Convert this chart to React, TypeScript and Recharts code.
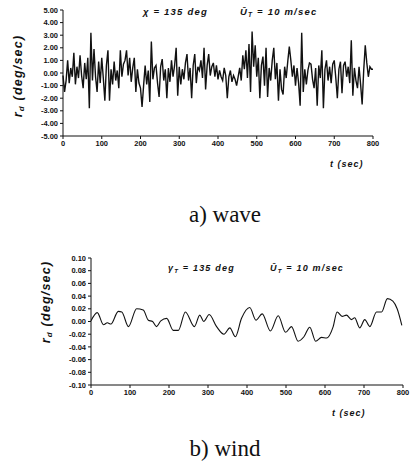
import { LineChart, Line, XAxis, YAxis } from "recharts";

// wave-induced yaw rate, sampled every 4 sec
const waveValues = [
  -0.2, -1.5, -0.6, 1.0, -0.8, 0.4, -0.3, 1.6, -0.9, 0.5,
  -0.4, 1.4, -0.2, -1.2, 0.8, -0.5, 1.2, -2.8, 3.2, -0.6,
  1.9, -0.3, -1.5, 0.9, -0.8, 1.2, -0.4, -2.2, 0.6, 1.8,
  -2.2, 0.3, -0.9, 0.9, -0.6, 0.2, -1.2, 1.8, -0.3, 0.7,
  1.0, 1.8, -0.2, 1.2, -0.7, 0.4, 1.2, -1.5, 0.3, -0.8,
  -1.2, -2.7, -1.0, 0.6, -0.9, 0.2, -2.3, 2.5, -0.5, 0.4,
  0.6, -0.8, -1.9, 0.5, 1.1, -0.6, 0.3, -2.0, 0.4, -0.7,
  1.0, -0.3, 0.6, 2.0, -1.8, 0.5, -0.9, 0.3, -0.5, 0.8,
  1.5, -0.6, 0.4, -2.0, 0.6, 1.5, -0.8, 0.5, 0.2, 1.0,
  -0.4, 2.0, -1.3, 0.6, 1.5, -0.2, 0.5, 0.8, -0.3, 0.6,
  -0.5, 0.2, -0.3, -0.6, 0.4, -0.2, -2.0, -0.3, 0.2, -0.7,
  -0.2, -0.5, -1.0, -0.3, 0.4, -0.6, 1.4, 0.3, 1.8, -0.4,
  2.3, -1.5, 3.3, 0.5, 2.2, -0.3, 1.2, -2.0, 0.6, 1.3,
  -1.0, 2.0, -1.9, 0.4, -0.6, 1.0, 2.0, -0.5, 0.8, -2.2,
  0.3, -1.3, -1.7, 0.5, -0.4, 0.9, 2.1, 1.0, -0.3, 0.6,
  -1.0, 0.4, -0.8, -2.6, 3.2, -1.5, 0.3, -0.9, 0.2, 0.8,
  0.7, -0.5, -1.2, 0.4, -2.6, 0.6, -0.4, 1.8, -2.8, 0.3,
  1.0, -0.6, 0.5, -0.8, 0.7, 1.0, -0.4, -2.0, 0.3, 0.9,
  -1.6, 0.6, 0.9, -0.3, 0.5, -0.8, 2.6, -1.8, 0.4, -0.6,
  -1.2, 0.5, -0.9, -2.5, 0.2, 2.2, 0.8, -0.3, 0.5, 0.3,
  0.3,
];
const waveStep = 4;

// wind-induced yaw rate, read at irregular times
const windTimes = [
  0, 16, 32, 42, 51, 70, 79, 96, 117, 134, 147, 158, 168, 179, 194, 211, 224,
  242, 265, 279, 289, 303, 322, 341, 356, 370, 386, 407, 423, 439, 460, 480,
  499, 514, 531, 546, 561, 576, 591, 604, 621, 631, 644, 655, 668, 676, 689,
  702, 715, 732, 745, 760, 774, 785, 797,
];
const windValues = [
  0.001, 0.014, -0.005, -0.002, -0.004, 0.016, 0.015, -0.008, 0.02, 0.018,
  0.002, 0.0, -0.008, 0.001, 0.005, -0.014, -0.014, 0.015, -0.008, 0.01, 0.0,
  0.011, -0.008, -0.02, -0.01, -0.024, 0.005, 0.022, 0.002, 0.012, -0.015,
  0.009, -0.017, -0.008, -0.031, -0.024, -0.009, -0.031, -0.025, -0.026,
  -0.008, 0.015, 0.008, 0.01, 0.003, 0.006, -0.01, 0.003, -0.008, 0.015,
  0.015, 0.036, 0.032, 0.02, -0.006,
];

const timeTicks = [0, 100, 200, 300, 400, 500, 600, 700, 800];
const waveTicks = [-5, -4, -3, -2, -1, 0, 1, 2, 3, 4, 5];
const windTicks = [-0.1, -0.08, -0.06, -0.04, -0.02, 0, 0.02, 0.04, 0.06, 0.08, 0.1];

const waveData = waveValues.map((v, i) => ({ t: i * waveStep, r: v }));
const windData = windTimes.map((t, i) => ({ t, r: windValues[i] }));

const tickFont = { fontSize: 7.5, fontWeight: 700, fill: "#111", fontFamily: "Liberation Sans, Arial, sans-serif" };
const labelFont = {
  fontFamily: "Liberation Sans, Arial, sans-serif",
  fontStyle: "italic",
  fontWeight: 700,
  fill: "#111",
};

function Overlay() {
  return (
    <svg width={411} height={474} style={{ position: "absolute", left: 0, top: 0, pointerEvents: "none" }}>
      {/* top chart texts */}
      <text x={143} y={15} fontSize={9.5} letterSpacing={1.2} {...labelFont}>
        χ = 135 deg
      </text>
      <text x={240} y={15} fontSize={9.5} letterSpacing={1.2} {...labelFont}>
        Ū<tspan fontSize={6.5} dy={2}>T</tspan>
        <tspan dy={-2}> = 10 m/sec</tspan>
      </text>
      <text transform="translate(22,76) rotate(-90)" textAnchor="middle" fontSize={12.5} letterSpacing={1.2} {...labelFont}>
        r<tspan fontSize={8} dy={2}>d</tspan>
        <tspan dy={-2}> (deg/sec)</tspan>
      </text>
      <text x={330} y={167} fontSize={9} letterSpacing={1} {...labelFont}>
        t (sec)
      </text>
      <text x={225} y={222} textAnchor="middle" fontSize={23} fontFamily="Liberation Serif, serif" fill="#111">
        a) wave
      </text>

      {/* bottom chart texts */}
      <text x={168} y={271} fontSize={9} letterSpacing={1.2} {...labelFont}>
        γ<tspan fontSize={6} dy={2}>T</tspan>
        <tspan dy={-2}> = 135 deg</tspan>
      </text>
      <text x={270} y={271} fontSize={9} letterSpacing={1.2} {...labelFont}>
        Ū<tspan fontSize={6} dy={2}>T</tspan>
        <tspan dy={-2}> = 10 m/sec</tspan>
      </text>
      <text transform="translate(50,302) rotate(-90)" textAnchor="middle" fontSize={12.5} letterSpacing={1.2} {...labelFont}>
        r<tspan fontSize={8} dy={2}>d</tspan>
        <tspan dy={-2}> (deg/sec)</tspan>
      </text>
      <text x={332} y={416} fontSize={9} letterSpacing={1} {...labelFont}>
        t (sec)
      </text>
      <text x={225} y={456} textAnchor="middle" fontSize={23} fontFamily="Liberation Serif, serif" fill="#111">
        b) wind
      </text>
    </svg>
  );
}

export default function App() {
  return (
    <div style={{ position: "absolute", left: 0, top: 0, width: 411, height: 474, background: "#fff" }}>
      <div style={{ position: "absolute", left: 0, top: 0 }}>
        <LineChart width={411} height={160} data={waveData} margin={{ top: 10, right: 38, bottom: 4, left: 0 }}>
          <XAxis
            dataKey="t"
            type="number"
            domain={[0, 800]}
            ticks={timeTicks}
            tick={tickFont}
            tickSize={3}
            height={20}
            stroke="#111"
          />
          <YAxis
            type="number"
            domain={[-5, 5]}
            ticks={waveTicks}
            tickFormatter={(v: number) => v.toFixed(2)}
            tick={tickFont}
            tickSize={3}
            width={63}
            stroke="#111"
            interval={0}
          />
          <Line dataKey="r" stroke="#111" strokeWidth={1.4} dot={false} type="linear" isAnimationActive={false} />
        </LineChart>
      </div>
      <div style={{ position: "absolute", left: 0, top: 240 }}>
        <LineChart width={411} height={170} data={windData} margin={{ top: 18, right: 8, bottom: 5, left: 0 }}>
          <XAxis
            dataKey="t"
            type="number"
            domain={[0, 800]}
            ticks={timeTicks}
            tick={tickFont}
            tickSize={3}
            height={20}
            stroke="#111"
          />
          <YAxis
            type="number"
            domain={[-0.1, 0.1]}
            ticks={windTicks}
            tickFormatter={(v: number) => v.toFixed(2)}
            tick={tickFont}
            tickSize={3}
            width={91}
            stroke="#111"
            interval={0}
          />
          <Line dataKey="r" stroke="#111" strokeWidth={1.1} dot={false} type="monotone" isAnimationActive={false} />
        </LineChart>
      </div>
      <Overlay />
    </div>
  );
}
